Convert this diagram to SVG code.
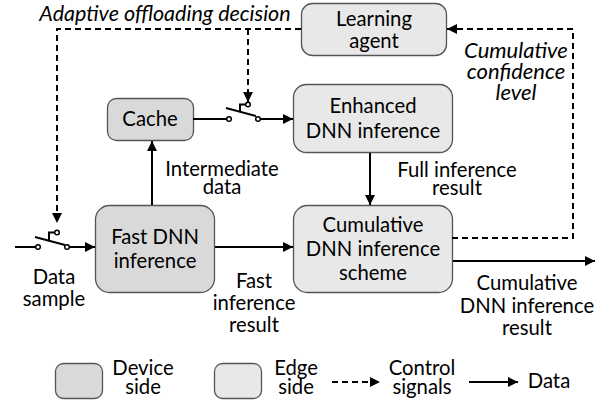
<svg xmlns="http://www.w3.org/2000/svg" width="605" height="405" viewBox="0 0 605 405">
<style>
text{font-family:Lato,"Open Sans","Liberation Sans",sans-serif;font-size:20.3px;fill:#000;text-anchor:middle}
.it{font-style:italic;font-size:22px}
.top{font-size:21.5px}
.dev{fill:#d9d9d9;stroke:#555;stroke-width:1.3}
.edge{fill:#e8e8e8;stroke:#555;stroke-width:1.3}
.ln{fill:none;stroke:#000;stroke-width:2}
.ds{fill:none;stroke:#000;stroke-width:2;stroke-dasharray:6 4}
.ct{fill:#fff;stroke:#000;stroke-width:1.5}
</style>
<defs>
<marker id="ah" viewBox="0 0 10 10" refX="10" refY="5" markerWidth="5" markerHeight="5" orient="auto" markerUnits="strokeWidth">
<path d="M0,0L10,5L0,10z" fill="#000"/>
</marker>
</defs>
<g id="learning-agent">
<rect class="edge" x="301.5" y="3.5" width="145" height="52" rx="11"/>
<text x="374" y="26">Learning</text>
<text x="374" y="48">agent</text>
</g>
<g id="cache">
<rect class="dev" x="107.5" y="98.5" width="86" height="42" rx="9"/>
<text x="150" y="126">Cache</text>
</g>
<g id="enhanced">
<rect class="edge" x="293.5" y="84.5" width="159" height="68" rx="13"/>
<text x="373" y="113">Enhanced</text>
<text x="373" y="138">DNN inference</text>
</g>
<g id="fast">
<rect class="dev" x="95.5" y="205.5" width="119" height="87" rx="14"/>
<text x="155" y="244">Fast DNN</text>
<text x="155" y="268">inference</text>
</g>
<g id="cumulative">
<rect class="edge" x="293.5" y="205.5" width="159" height="87" rx="14"/>
<text x="373" y="232">Cumulative</text>
<text x="373" y="256">DNN inference</text>
<text x="373" y="280">scheme</text>
</g>
<g id="connectors">
<polyline class="ds" points="301,29 57,29 57,223" marker-end="url(#ah)"/>
<line class="ds" x1="248" y1="29" x2="248" y2="102" marker-end="url(#ah)"/>
<polyline class="ds" points="452,238 573,238 573,29 447,29" marker-end="url(#ah)"/>
<line class="ln" x1="193" y1="119" x2="227" y2="119"/>
<line class="ln" x1="226" y1="108" x2="256" y2="116"/>
<polyline class="ln" points="240,111.7 240,104.5 246,104.5"/>
<circle class="ct" cx="229" cy="119" r="2.3"/>
<circle class="ct" cx="248" cy="104.5" r="2.3"/>
<circle class="ct" cx="258" cy="119" r="2.3"/>
<line class="ln" x1="260.3" y1="119" x2="293" y2="119" marker-end="url(#ah)"/>
<line class="ln" x1="15" y1="247" x2="36" y2="247"/>
<line class="ln" x1="35" y1="237" x2="65" y2="245"/>
<polyline class="ln" points="49,240.7 49,232.5 55,232.5"/>
<circle class="ct" cx="38" cy="247" r="2.3"/>
<circle class="ct" cx="57" cy="232.5" r="2.3"/>
<circle class="ct" cx="67" cy="247" r="2.3"/>
<line class="ln" x1="69.3" y1="247" x2="95" y2="247" marker-end="url(#ah)"/>
<line class="ln" x1="152" y1="205" x2="152" y2="141" marker-end="url(#ah)"/>
<line class="ln" x1="370" y1="153" x2="370" y2="205" marker-end="url(#ah)"/>
<line class="ln" x1="215" y1="247" x2="293" y2="247" marker-end="url(#ah)"/>
<line class="ln" x1="453" y1="261" x2="595" y2="261" marker-end="url(#ah)"/>
</g>
<g id="labels">
<text class="it top" x="165" y="21">Adaptive offloading decision</text>
<text class="it" x="516" y="58">Cumulative</text>
<text class="it" x="516" y="79">confidence</text>
<text class="it" x="516" y="100">level</text>
<text x="222" y="176">Intermediate</text>
<text x="222" y="194">data</text>
<text x="457" y="177">Full inference</text>
<text x="457" y="195">result</text>
<text x="54" y="284">Data</text>
<text x="54" y="306">sample</text>
<text x="254" y="288">Fast</text>
<text x="254" y="310">inference</text>
<text x="254" y="332">result</text>
<text x="527" y="290">Cumulative</text>
<text x="527" y="313">DNN inference</text>
<text x="527" y="335">result</text>
</g>
<g id="legend">
<rect class="dev" x="55.5" y="363.5" width="47" height="35" rx="8"/>
<text x="143" y="375">Device</text>
<text x="143" y="394">side</text>
<rect class="edge" x="214.5" y="363.5" width="47" height="35" rx="8"/>
<text x="296" y="375">Edge</text>
<text x="296" y="394">side</text>
<line class="ds" x1="332" y1="382" x2="380" y2="382" marker-end="url(#ah)"/>
<text x="422" y="375">Control</text>
<text x="422" y="394">signals</text>
<line class="ln" x1="469" y1="382" x2="518" y2="382" marker-end="url(#ah)"/>
<text x="549" y="388">Data</text>
</g>
</svg>
